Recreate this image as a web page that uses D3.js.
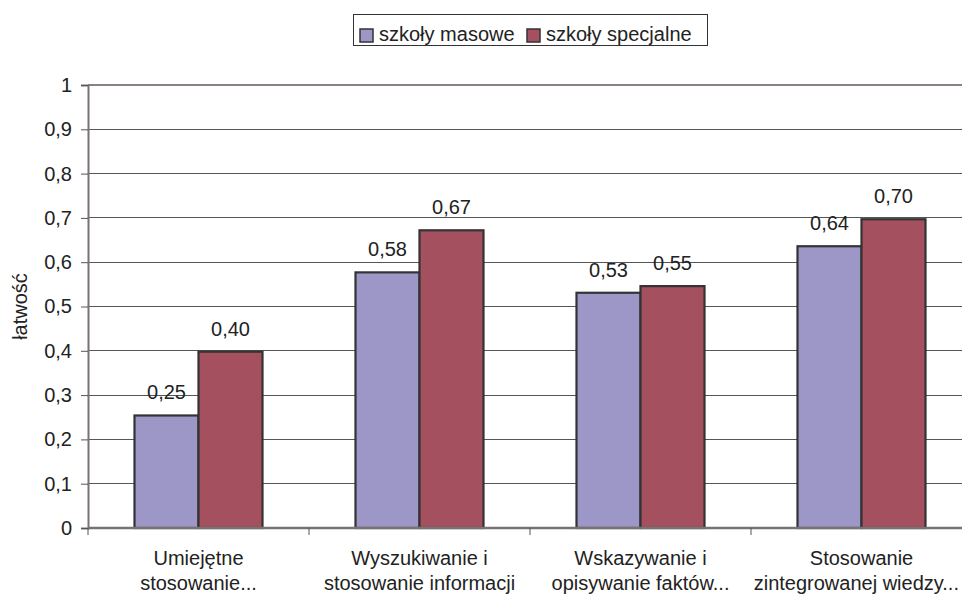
<!DOCTYPE html>
<html><head><meta charset="utf-8">
<script src="https://cdn.jsdelivr.net/npm/d3@7/dist/d3.min.js"></script>
<style>body{margin:0;background:#fff}svg{display:block;font-family:"Liberation Sans",Arial,sans-serif}</style>
</head><body>
<script>
const categories = [
  ["Umiejętne", "stosowanie..."],
  ["Wyszukiwanie i", "stosowanie informacji"],
  ["Wskazywanie i", "opisywanie faktów..."],
  ["Stosowanie", "zintegrowanej wiedzy..."]
];
const seriesNames = ["szkoły masowe", "szkoły specjalne"];
const masowe = [0.254, 0.577, 0.531, 0.636];
const specjalne = [0.398, 0.672, 0.546, 0.697];
const yTicks = [0,0.1,0.2,0.3,0.4,0.5,0.6,0.7,0.8,0.9,1];
const colors = ["#9d97c8", "#a5505f"];

const W = 962, H = 595;
const FS = 20;
const svg = d3.select("body").append("svg").attr("width", W).attr("height", H);
const mLeft = 88, mTop = 85, mBottom = 528, mRight = 972;

const x = d3.scaleBand().domain(d3.range(categories.length)).range([mLeft, mRight]).paddingInner(0).paddingOuter(0);
const y = d3.scaleLinear().domain([0, 1]).range([mBottom, mTop]);
const barW = 64;
const x1 = d3.scaleBand().domain([0,1]).range([-barW, barW]);

// gridlines
svg.append("g").selectAll("line").data(yTicks.filter(d => d > 0 && d < 1)).join("line")
  .attr("x1", mLeft).attr("x2", W).attr("y1", d => y(d)).attr("y2", d => y(d))
  .attr("stroke", "#555").attr("stroke-width", 1).attr("shape-rendering", "crispEdges");
// top border
svg.append("line").attr("x1", mLeft).attr("x2", W).attr("y1", y(1)).attr("y2", y(1))
  .attr("stroke", "#8a8282").attr("stroke-width", 2);

// y axis
const yAxis = d3.axisLeft(y).tickValues(yTicks).tickSize(7).tickPadding(9)
  .tickFormat(d => d === 0 ? "0" : d === 1 ? "1" : String(d3.format(".1f")(d)).replace(".", ","));
const gy = svg.append("g").attr("transform", `translate(${mLeft},0)`).call(yAxis);
gy.select(".domain").attr("stroke", "#7a7272").attr("stroke-width", 2);
gy.selectAll(".tick line").attr("stroke", "#555");
gy.selectAll(".tick text").attr("font-size", FS).attr("fill", "#222").attr("font-family", "Liberation Sans, Arial, sans-serif");

// bars
const data = categories.map((c, i) => [masowe[i], specjalne[i]]);
const groups = svg.append("g").selectAll("g").data(data).join("g")
  .attr("transform", (d, i) => `translate(${x(i) + x.bandwidth()/2},0)`);
groups.selectAll("rect").data(d => d).join("rect")
  .attr("x", (d, j) => x1(j)).attr("width", x1.bandwidth())
  .attr("y", d => y(d)).attr("height", d => mBottom - y(d))
  .attr("fill", (d, j) => colors[j]).attr("stroke", "#333").attr("stroke-width", 2.2);
groups.selectAll("text").data(d => d).join("text")
  .attr("x", (d, j) => x1(j) + x1.bandwidth()/2).attr("y", d => y(d) - 16)
  .attr("text-anchor", "middle").attr("font-size", FS).attr("fill", "#222")
  .text(d => d.toFixed(2).replace(".", ","));

// x axis
const gx = svg.append("g").attr("transform", `translate(0,${mBottom})`);
gx.append("line").attr("x1", mLeft).attr("x2", W).attr("stroke", "#7a7272").attr("stroke-width", 2.5);
gx.selectAll("line.tk").data(d3.range(categories.length + 1)).join("line").attr("class", "tk")
  .attr("x1", i => x.step() * i + mLeft).attr("x2", i => x.step() * i + mLeft)
  .attr("y1", 0).attr("y2", 7).attr("stroke", "#555");
categories.forEach((c, i) => {
  c.forEach((line, k) => {
    const t = gx.append("text").attr("x", x(i) + x.bandwidth()/2).attr("y", 37 + k * 25)
      .attr("text-anchor", "middle").attr("font-size", FS).attr("fill", "#222").text(line);
    const len = t.node().getComputedTextLength();
    const cx = x(i) + x.bandwidth()/2;
    if (cx + len/2 > W - 3) t.attr("x", W - 3 - len/2);
  });
});

// y title
svg.append("text").attr("transform", `translate(27,${(mTop+mBottom)/2}) rotate(-90)`)
  .attr("text-anchor", "middle").attr("font-size", FS).attr("fill", "#222").text("łatwość");

// legend
const lg = svg.append("g");
lg.append("rect").attr("x", 353.5).attr("y", 14.5).attr("width", 354).attr("height", 31)
  .attr("fill", "#fff").attr("stroke", "#333").attr("stroke-width", 1);
const lx = [360, 527];
seriesNames.forEach((n, j) => {
  lg.append("rect").attr("x", lx[j]).attr("y", 29).attr("width", 13).attr("height", 13)
    .attr("fill", colors[j]).attr("stroke", "#333").attr("stroke-width", 1.5);
  lg.append("text").attr("x", lx[j] + 19).attr("y", 41).attr("font-size", FS).attr("fill", "#222").text(n);
});
</script>
</body></html>
